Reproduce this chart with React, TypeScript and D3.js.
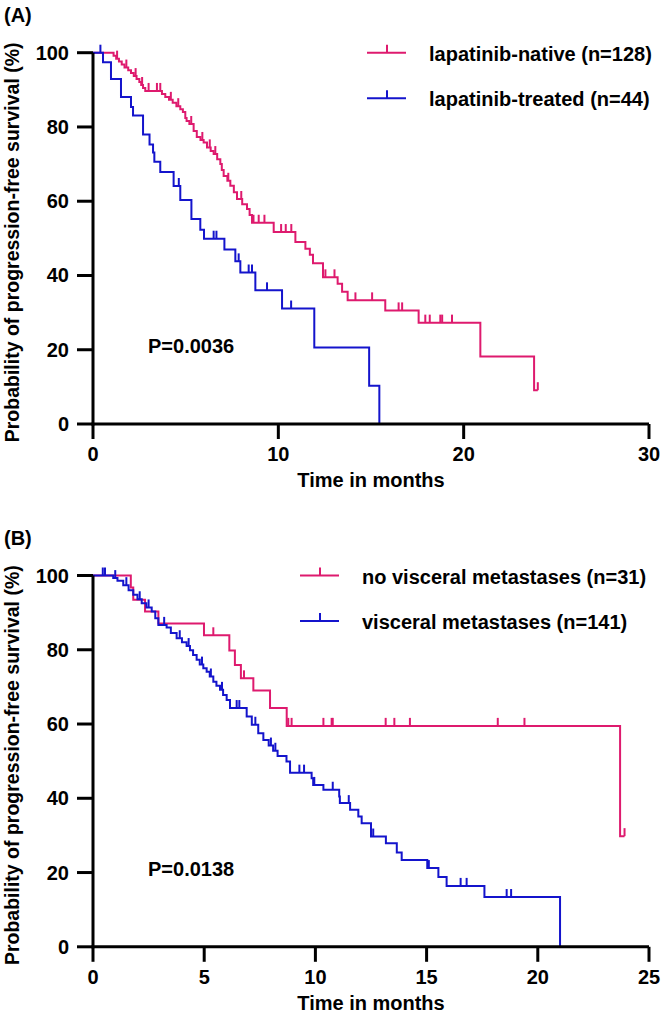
import React from "react";
import * as d3 from "d3";

// panel A: [months, survival % after the event]
const nativeSteps: [number, number][] = [
  [1.11, 99.2], [1.25, 98.4], [1.4, 97.6], [1.55, 96.8], [1.7, 96.0], [1.9, 95.3],
  [2.05, 94.5], [2.2, 93.7], [2.35, 92.9], [2.5, 92.1], [2.6, 91.3], [2.7, 90.5],
  [2.82, 89.7], [3.72, 88.9], [3.9, 88.1], [4.1, 87.3], [4.3, 86.5], [4.5, 85.6],
  [4.71, 84.8], [4.85, 84.0], [4.98, 82.4], [5.05, 81.6], [5.2, 80.8], [5.43, 78.9],
  [5.6, 77.3], [5.8, 76.5], [5.97, 75.8], [6.15, 74.5], [6.35, 73.5], [6.51, 72.7],
  [6.7, 71.3], [6.87, 70.0], [6.95, 68.4], [7.05, 66.8], [7.25, 65.5], [7.41, 64.2],
  [7.6, 62.4], [7.77, 60.6], [8.05, 59.2], [8.31, 57.9], [8.45, 56.3], [8.58, 54.2],
  [9.75, 51.7], [10.92, 49.0], [11.46, 47.2], [11.7, 45.6], [11.87, 43.3], [12.41, 39.5],
  [13.2, 37.8], [13.44, 35.6], [13.74, 33.3], [15.77, 30.6], [17.57, 27.3], [20.9, 18.2],
  [23.8, 9.1],
];
const nativeCensor = [
  1.3, 1.8, 2.3, 2.65, 3.0, 3.45, 3.63, 4.2, 4.6, 5.3, 5.9, 6.3, 6.6, 7.3, 8.0, 8.66,
  8.94, 9.25, 10.15, 10.4, 10.7, 12.54, 13.03, 14.16, 15.06, 16.49, 16.68, 17.93, 18.17,
  18.74, 18.84, 19.37, 24.0,
];
const treatedSteps: [number, number][] = [
  [0.54, 97.4], [0.97, 92.9], [1.51, 88.1], [2.05, 85.4], [2.16, 83.1], [2.7, 78.0],
  [3.05, 75.3], [3.24, 73.1], [3.31, 70.6], [3.63, 67.9], [4.35, 64.1], [4.71, 60.3],
  [5.31, 55.2], [5.79, 52.3], [5.99, 49.9], [7.09, 47.0], [7.68, 43.8], [7.95, 40.8],
  [8.76, 36.0], [10.2, 31.1], [11.94, 20.6], [14.9, 10.3], [15.45, 0],
];
const treatedCensor = [0.4, 4.63, 6.51, 6.66, 7.86, 8.4, 8.58, 9.39, 10.69];

// panel B
const noVisSteps: [number, number][] = [
  [1.7, 96.8], [1.81, 93.5], [2.34, 90.3], [2.94, 87.1], [4.99, 83.9], [6.13, 79.8],
  [6.38, 75.9], [6.65, 72.3], [7.21, 69.0], [7.96, 64.3], [8.71, 59.5], [23.7, 29.8],
];
const noVisCensor = [5.41, 6.79, 8.78, 8.93, 10.36, 10.73, 10.78, 13.16, 13.55, 14.25, 18.2, 19.4, 23.9];
const visSteps: [number, number][] = [
  [0.91, 99.3], [1.1, 98.6], [1.36, 97.4], [1.6, 96.0], [1.81, 94.8], [2.0, 93.6],
  [2.19, 92.5], [2.4, 91.4], [2.64, 90.3], [2.8, 88.5], [2.94, 86.7], [3.31, 86.0],
  [3.5, 84.5], [3.76, 83.1], [4.0, 82.0], [4.21, 81.0], [4.36, 79.9], [4.5, 78.6],
  [4.66, 77.3], [4.8, 76.0], [4.96, 75.0], [5.11, 74.1], [5.25, 72.8], [5.41, 71.4],
  [5.55, 70.3], [5.71, 69.2], [5.85, 67.8], [6.01, 66.5], [6.16, 64.3], [6.91, 62.0],
  [7.14, 59.8], [7.43, 57.5], [7.66, 55.7], [7.9, 54.2], [8.1, 52.8], [8.3, 51.4],
  [8.7, 49.9], [8.86, 46.9], [9.83, 45.4], [9.9, 43.6], [10.36, 42.3], [11.07, 40.5],
  [11.1, 38.7], [11.56, 36.9], [11.93, 35.1], [12.08, 33.3], [12.5, 29.7], [13.17, 27.9],
  [13.66, 25.4], [13.88, 23.4], [15.03, 21.2], [15.53, 18.8], [15.9, 16.4], [17.6, 13.4],
  [21.0, 0],
];
const visCensor = [
  0.44, 0.54, 1.0, 1.5, 2.1, 2.5, 3.2, 3.9, 4.3, 4.9, 5.3, 5.8, 6.46, 6.58, 7.3, 8.0,
  8.2, 9.28, 9.49, 9.95, 10.78, 11.5, 12.6, 15.1, 16.53, 16.8, 18.6, 18.8,
];

const RED = "#DE1A6E";
const BLUE = "#1414CC";
const FONT = "'Liberation Sans', Arial, sans-serif";

type Curve = { steps: [number, number][]; censor: number[]; color: string; label: string };

function survAt(steps: [number, number][], t: number) {
  let s = 100;
  for (const [st, v] of steps) if (st <= t) s = v;
  return s;
}

function Panel({ top, tag, xMax, xTicks, curves, pText, legendX, pY }: {
  top: number; tag: string; xMax: number; xTicks: number[]; curves: Curve[];
  pText: string; legendX: number; pY: number;
}) {
  const x = d3.scaleLinear().domain([0, xMax]).range([93, 649]);
  const y = d3.scaleLinear().domain([0, 100]).range([top + 371.3, top]);
  const line = d3.line<[number, number]>().x((d) => x(d[0])).y((d) => y(d[1])).curve(d3.curveStepAfter);
  const y0 = y(0);
  return (
    <g fontFamily={FONT} fontWeight="bold">
      <text x={4} y={top - 31} fontSize={20}>{tag}</text>
      <text transform={`translate(19,${(y(0) + y(100)) / 2 + 4}) rotate(-90)`} textAnchor="middle" fontSize={19.5}>
        Probability of progression-free survival (%)
      </text>
      {curves.map((c, i) => {
        const last = c.steps[c.steps.length - 1];
        const end = Math.max(last[0], ...c.censor);
        const pts: [number, number][] = [[0, 100], ...c.steps, [end, last[1]]];
        const ly = top + i * 45.5;
        return (
          <g key={i}>
            <path d={line(pts) || ""} fill="none" stroke={c.color} strokeWidth={2} />
            {c.censor.map((t, j) => (
              <line key={j} x1={x(t)} x2={x(t)} y1={y(survAt(c.steps, t))} y2={y(survAt(c.steps, t)) - 8}
                stroke={c.color} strokeWidth={2} />
            ))}
            <line x1={legendX} x2={legendX + 39} y1={ly} y2={ly} stroke={c.color} strokeWidth={2} />
            <line x1={legendX + 20} x2={legendX + 20} y1={ly} y2={ly - 8} stroke={c.color} strokeWidth={2} />
            <text x={legendX + 62} y={ly + 8} fontSize={20}>{c.label}</text>
          </g>
        );
      })}
      <line x1={93} x2={93} y1={y(100)} y2={y0 + 1.5} stroke="black" strokeWidth={3} />
      <line x1={91.5} x2={649} y1={y0} y2={y0} stroke="black" strokeWidth={3} />
      {d3.range(0, 101, 20).map((v) => (
        <g key={v}>
          <line x1={77} x2={93} y1={y(v)} y2={y(v)} stroke="black" strokeWidth={3} />
          <text x={69} y={y(v) + 7} textAnchor="end" fontSize={20}>{v}</text>
        </g>
      ))}
      {xTicks.map((v) => (
        <g key={v}>
          <line x1={x(v)} x2={x(v)} y1={y0} y2={y0 + 15} stroke="black" strokeWidth={3} />
          <text x={x(v)} y={y0 + 37} textAnchor="middle" fontSize={20}>{v}</text>
        </g>
      ))}
      <text x={371} y={y0 + 63} textAnchor="middle" fontSize={20}>Time in months</text>
      <text x={148} y={pY} fontSize={20}>{pText}</text>
    </g>
  );
}

export default function App() {
  return (
    <svg width={664} height={1025} style={{ position: "absolute", left: 0, top: 0, background: "white" }}>
      <Panel top={52.7} tag="(A)" xMax={30} xTicks={[0, 10, 20, 30]} legendX={367} pY={353} pText="P=0.0036"
        curves={[
          { steps: nativeSteps, censor: nativeCensor, color: RED, label: "lapatinib-native (n=128)" },
          { steps: treatedSteps, censor: treatedCensor, color: BLUE, label: "lapatinib-treated (n=44)" },
        ]} />
      <Panel top={575.5} tag="(B)" xMax={25} xTicks={[0, 5, 10, 15, 20, 25]} legendX={300} pY={876} pText="P=0.0138"
        curves={[
          { steps: noVisSteps, censor: noVisCensor, color: RED, label: "no visceral metastases (n=31)" },
          { steps: visSteps, censor: visCensor, color: BLUE, label: "visceral metastases (n=141)" },
        ]} />
    </svg>
  );
}
